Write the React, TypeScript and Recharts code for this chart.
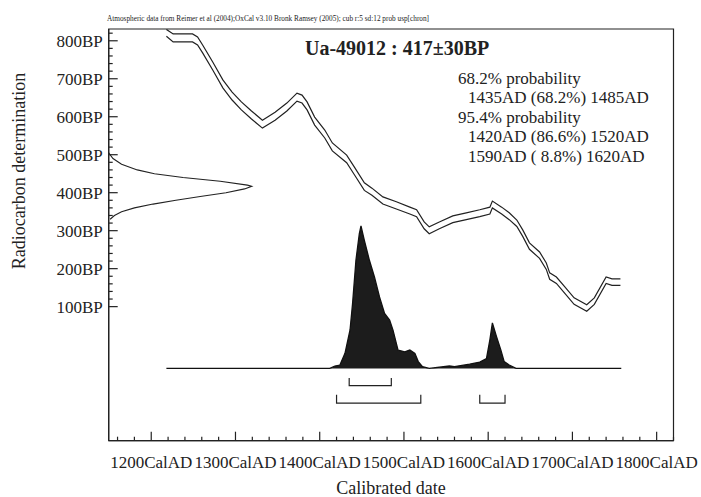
import React from 'react';
import { ComposedChart, XAxis, YAxis, Line, Area, Scatter, ReferenceArea } from 'recharts';

// Calibration curve (IntCal04 band, upper and lower edges), BP vs calendar year
const calYears = [1218, 1226, 1249, 1255, 1261, 1273, 1285, 1296, 1307, 1319, 1332, 1347, 1361, 1373, 1379, 1385, 1394, 1406, 1415, 1432, 1441, 1453, 1462, 1475, 1491, 1507, 1515, 1524, 1530, 1542, 1558, 1574, 1590, 1602, 1605, 1616, 1625, 1634, 1641, 1649, 1661, 1669, 1673, 1681, 1691, 1702, 1717, 1726, 1740, 1747, 1757];
const calUpper = [830, 818, 818, 810, 789, 744, 697, 665, 639, 615, 591, 612, 636, 662, 657, 639, 599, 565, 531, 499, 468, 426, 412, 389, 376, 362, 355, 323, 310, 323, 339, 347, 355, 362, 378, 362, 347, 328, 302, 268, 244, 215, 189, 178, 152, 123, 105, 123, 178, 173, 173];
const calLower = [812, 797, 797, 789, 768, 723, 676, 644, 618, 594, 570, 591, 615, 641, 636, 618, 578, 544, 510, 479, 448, 406, 393, 370, 357, 344, 337, 305, 292, 305, 321, 329, 337, 344, 360, 344, 329, 311, 285, 251, 227, 198, 172, 161, 135, 106, 88, 106, 161, 156, 156];

// Calibrated probability distribution (relative, peak = 1)
const distYears = [1218, 1412, 1418, 1424, 1430, 1436, 1439, 1443, 1447, 1449, 1453, 1459, 1465, 1471, 1477, 1483, 1487, 1493, 1501, 1507, 1513, 1517, 1522, 1530, 1554, 1560, 1578, 1590, 1598, 1602, 1605, 1610, 1615, 1619, 1625, 1633, 1758];
const distProb = [0, 0, 0.017, 0.024, 0.106, 0.27, 0.456, 0.759, 0.945, 1.0, 0.899, 0.759, 0.642, 0.502, 0.386, 0.339, 0.269, 0.129, 0.117, 0.129, 0.106, 0.048, 0.013, 0, 0.017, 0.013, 0.03, 0.045, 0.07, 0.2, 0.32, 0.222, 0.13, 0.048, 0.024, 0, 0];

// Radiocarbon determination 417±30BP (relative amplitude vs BP)
const gaussBP = [505, 490, 475, 460, 450, 440, 430, 420, 417, 410, 400, 390, 380, 370, 360, 350, 340, 330];
const gaussAmp = [0, 0.03, 0.09, 0.2, 0.32, 0.52, 0.78, 0.97, 1.0, 0.95, 0.82, 0.64, 0.47, 0.31, 0.18, 0.09, 0.04, 0.01];

// Calibrated ranges
const range68 = [[1435, 1485]];
const range95 = [[1420, 1520], [1590, 1620]];

// Axes
const xDomain = [1149.5, 1820];
const yDomain = [-253, 831];
const xMajorTicks = [1200, 1300, 1400, 1500, 1600, 1700, 1800];
const xTickLabels = ['1200CalAD', '1300CalAD', '1400CalAD', '1500CalAD', '1600CalAD', '1700CalAD', '1800CalAD'];
const xMinorTicks = [1160, 1180, 1200, 1220, 1240, 1260, 1280, 1300, 1320, 1340, 1360, 1380, 1400, 1420, 1440, 1460, 1480, 1500, 1520, 1540, 1560, 1580, 1600, 1620, 1640, 1660, 1680, 1700, 1720, 1740, 1760, 1780, 1800, 1820];
const yMajorTicks = [100, 200, 300, 400, 500, 600, 700, 800];
const yTickLabels = ['100BP', '200BP', '300BP', '400BP', '500BP', '600BP', '700BP', '800BP'];
const yMinorTicks = [100, 120, 140, 160, 180, 200, 220, 240, 260, 280, 300, 320, 340, 360, 380, 400, 420, 440, 460, 480, 500, 520, 540, 560, 580, 600, 620, 640, 660, 680, 700, 720, 740, 760, 780, 800, 820];

const headerText = 'Atmospheric data from Reimer et al (2004);OxCal v3.10 Bronk Ramsey (2005); cub r:5 sd:12 prob usp[chron]';
const titleText = 'Ua-49012 : 417\u00b130BP';
const probLines = ['68.2% probability', '1435AD (68.2%) 1485AD', '95.4% probability', '1420AD (86.6%) 1520AD', '1590AD ( 8.8%) 1620AD'];
const probIndent = [0, 1, 0, 1, 1];
const xAxisTitle = 'Calibrated date';
const yAxisTitle = 'Radiocarbon determination';

const FONT = '"Liberation Serif", "Times New Roman", serif';
const INK = '#222';

const upperData = calYears.map((year, i) => ({ year, bp: calUpper[i] }));
const lowerData = calYears.map((year, i) => ({ year, bp: calLower[i] }));
const distData = distYears.map((year, i) => ({ year, p: distProb[i] }));
const gaussData = gaussBP.map((bp, i) => ({ amp: gaussAmp[i], bp }));

const bracket = (a: number, b: number, top: number, bot: number) => [
  { year: a, bp: top },
  { year: a, bp: bot },
  { year: b, bp: bot },
  { year: b, bp: top },
];
const brackets68 = range68.map(([a, b]) => bracket(a, b, -88, -108));
const brackets95 = range95.map(([a, b]) => bracket(a, b, -132, -154));

const XTick = (props: any) => {
  const { x, y, payload } = props;
  const v = payload.value;
  const mi = xMajorTicks.indexOf(v);
  const major = mi >= 0;
  return (
    <g>
      <line x1={x} x2={x} y1={y} y2={y - (major ? 9 : 4)} stroke={INK} strokeWidth={1.2} />
      {major && (
        <text x={x} y={y + 27} textAnchor="middle" fontSize={17} fontFamily={FONT} fill={INK}>
          {xTickLabels[mi]}
        </text>
      )}
    </g>
  );
};

const YTick = (props: any) => {
  const { x, y, payload } = props;
  const v = payload.value;
  const mi = yMajorTicks.indexOf(v);
  const major = mi >= 0;
  return (
    <g>
      <line x1={x} x2={x + (major ? 9 : 4)} y1={y} y2={y} stroke={INK} strokeWidth={1.2} />
      {major && (
        <text x={x - 6} y={y} dy="0.35em" textAnchor="end" fontSize={17} fontFamily={FONT} fill={INK}>
          {yTickLabels[mi]}
        </text>
      )}
    </g>
  );
};

export default function App() {
  return (
    <div style={{ position: 'absolute', left: 0, top: 0, width: 701, height: 497, background: '#fff' }}>
      <ComposedChart width={701} height={497} margin={{ top: 29, right: 27.5, bottom: 0, left: 0 }}>
        <XAxis
          xAxisId="yr"
          type="number"
          dataKey="year"
          domain={xDomain}
          allowDataOverflow
          ticks={xMinorTicks}
          interval={0}
          tick={<XTick />}
          tickLine={false}
          tickSize={0}
          tickMargin={0}
          height={56.3}
          axisLine={{ stroke: INK, strokeWidth: 1.2 }}
        />
        <XAxis xAxisId="g" type="number" dataKey="amp" domain={[0, 3.95]} allowDataOverflow hide height={0} />
        <YAxis
          yAxisId="bp"
          type="number"
          dataKey="bp"
          domain={yDomain}
          allowDataOverflow
          ticks={yMinorTicks}
          interval={0}
          tick={<YTick />}
          tickLine={false}
          tickSize={0}
          tickMargin={0}
          width={108.7}
          axisLine={{ stroke: INK, strokeWidth: 1.2 }}
        />
        <YAxis yAxisId="prob" type="number" domain={[-0.507, 2.382]} allowDataOverflow hide width={0} />
        <ReferenceArea
          xAxisId="yr"
          yAxisId="bp"
          x1={xDomain[0]}
          x2={xDomain[1]}
          y1={yDomain[0]}
          y2={yDomain[1]}
          fill="none"
          stroke={INK}
          strokeWidth={1.2}
          ifOverflow="visible"
        />
        <Area
          data={distData}
          xAxisId="yr"
          yAxisId="prob"
          dataKey="p"
          type="linear"
          baseValue={0}
          stroke="#111"
          strokeWidth={1.3}
          fill="#1c1c1c"
          fillOpacity={1}
          dot={false}
          activeDot={false}
          isAnimationActive={false}
        />
        <Line data={upperData} xAxisId="yr" yAxisId="bp" dataKey="bp" type="linear" stroke={INK} strokeWidth={1.2} dot={false} activeDot={false} isAnimationActive={false} />
        <Line data={lowerData} xAxisId="yr" yAxisId="bp" dataKey="bp" type="linear" stroke={INK} strokeWidth={1.2} dot={false} activeDot={false} isAnimationActive={false} />
        {brackets68.map((d, i) => (
          <Line key={'b68' + i} data={d} xAxisId="yr" yAxisId="bp" dataKey="bp" type="linear" stroke={INK} strokeWidth={1.2} dot={false} activeDot={false} isAnimationActive={false} />
        ))}
        {brackets95.map((d, i) => (
          <Line key={'b95' + i} data={d} xAxisId="yr" yAxisId="bp" dataKey="bp" type="linear" stroke={INK} strokeWidth={1.2} dot={false} activeDot={false} isAnimationActive={false} />
        ))}
        <Scatter
          data={gaussData}
          xAxisId="g"
          yAxisId="bp"
          line={{ stroke: INK, strokeWidth: 1.1 }}
          lineType="joint"
          shape={() => <g />}
          isAnimationActive={false}
        />
      </ComposedChart>
      <svg width={701} height={497} style={{ position: 'absolute', left: 0, top: 0, pointerEvents: 'none' }}>
        <text x={107} y={20.5} fontSize={7.5} fontFamily={FONT} fill={INK} textLength={322} lengthAdjust="spacingAndGlyphs">
          {headerText}
        </text>
        <text x={305} y={55} fontSize={20} fontWeight="bold" fontFamily={FONT} fill={INK}>
          {titleText}
        </text>
        {probLines.map((t, i) => (
          <text key={i} x={458 + probIndent[i] * 10} y={83.5 + i * 19.6} fontSize={17} fontFamily={FONT} fill={INK} style={{ whiteSpace: 'pre' }}>
            {t}
          </text>
        ))}
        <text x={391} y={494} textAnchor="middle" fontSize={18} fontFamily={FONT} fill={INK}>
          {xAxisTitle}
        </text>
        <text x={18.5} y={171} textAnchor="middle" dominantBaseline="central" transform="rotate(-90 18.5 171)" fontSize={18} fontFamily={FONT} fill={INK}>
          {yAxisTitle}
        </text>
      </svg>
    </div>
  );
}
